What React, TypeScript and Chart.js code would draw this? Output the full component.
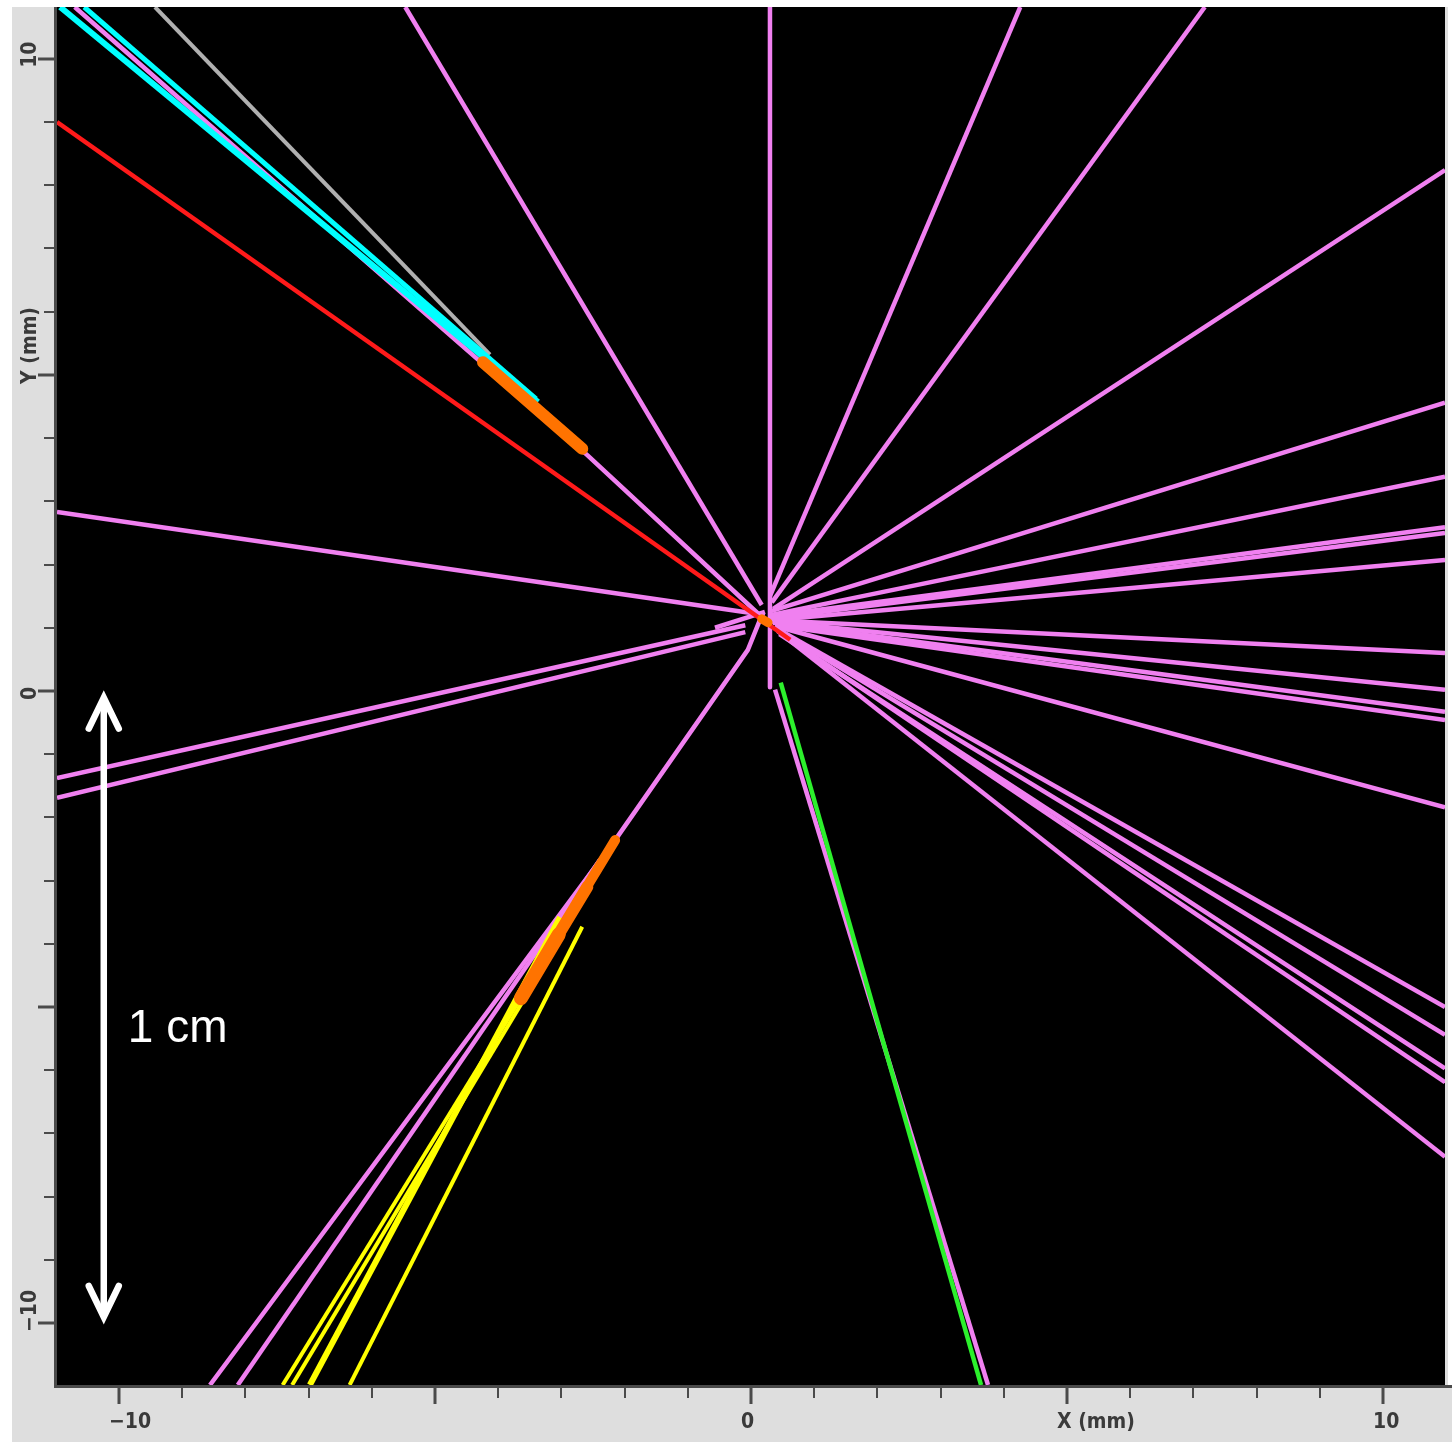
import React, { useEffect, useRef } from "react";
import { Chart, registerables } from "chart.js";

Chart.register(...registerables);

type Pt = [number, number];

// ---- axis ranges (mm) ----
const X_MIN = -10.98;
const X_MAX = 10.98;
const Y_MIN = -10.98;
const Y_MAX = 10.82;

// ---- ticks ----
const minorTickValues = [-10, -9, -8, -7, -6, -5, -4, -3, -2, -1, 0, 1, 2, 3, 4, 5, 6, 7, 8, 9, 10];
const majorTickValues = [-10, -5, 0, 5, 10];
const xLabelValues = [-10, 0, 5, 10];
const xLabelTexts = ["\u221210", "0", "X (mm)", "10"];
const yLabelValues = [-10, 0, 5, 10];
const yLabelTexts = ["\u221210", "0", "Y (mm)", "10"];

// ---- tracks (mm), each a polyline ----
const pinkTracks: Pt[][] = [
  [[-10.7, 10.82], [-2.59, 3.73], [0.17, 1.17]],
  [[-5.47, 10.82], [0.17, 1.36]],
  [[0.3, 10.82], [0.3, 0.06]],
  [[4.26, 10.82], [0.3, 1.5]],
  [[7.18, 10.82], [0.33, 1.4]],
  [[10.98, 8.24], [0.35, 1.3]],
  [[10.98, 4.56], [0.3, 1.26]],
  [[10.98, 3.39], [0.3, 1.2]],
  [[10.98, 2.59], [0.3, 1.18]],
  [[10.98, 2.5], [0.32, 1.15]],
  [[10.98, 2.07], [0.32, 1.12]],
  [[10.98, 0.6], [0.3, 1.12]],
  [[10.98, 0.02], [0.32, 1.1]],
  [[10.98, -0.33], [0.35, 1.08]],
  [[10.98, -0.46], [0.38, 1.04]],
  [[10.98, -1.84], [0.4, 1.02]],
  [[10.98, -5.0], [0.42, 0.98]],
  [[10.98, -5.44], [0.45, 0.95]],
  [[10.98, -5.97], [0.45, 0.9]],
  [[10.98, -6.19], [0.55, 0.85]],
  [[10.98, -7.37], [0.42, 0.95]],
  [[-10.98, 2.83], [0.22, 1.2]],
  [[-10.98, -1.38], [-0.09, 1.04]],
  [[-10.98, -1.69], [-0.09, 0.93]],
  [[-8.56, -10.98], [-2.15, -2.36], [-0.05, 0.65], [0.14, 1.12]],
  [[-8.12, -10.98], [-2.39, -2.67]],
  [[0.38, 0.02], [3.75, -10.98]],
  [[-0.57, 1.0], [0.22, 1.25]],
];

const cyanTracks: Pt[][] = [
  [[-10.93, 10.82], [-3.37, 4.57]],
  [[-10.55, 10.82], [-3.4, 4.62]],
];

const grayTracks: Pt[][] = [
  [[-9.43, 10.82], [-4.13, 5.32]],
];

const redTracks: Pt[][] = [
  [[-10.98, 9.0], [0.62, 0.81]],
];

const yellowTracks: Pt[][] = [
  [[-3.66, -4.89], [-7.41, -10.98]],
  [[-3.55, -4.81], [-7.26, -10.98]],
  [[-3.02, -3.58], [-6.98, -10.98]],
  [[-2.67, -3.73], [-6.35, -10.98]],
];

const greenTracks: Pt[][] = [
  [[0.47, 0.13], [3.64, -10.98]],
];

const orangeTracks: Pt[][] = [
  [[-4.24, 5.2], [-2.67, 3.83]],
  [[-2.15, -2.36], [-2.75, -3.35]],
  [[-2.59, -3.1], [-3.2, -4.11]],
  [[-3.04, -3.85], [-3.64, -4.86]],
  [[0.17, 1.14], [0.27, 1.08]],
];

// ---- scale bar annotation (mm) ----
const scaleBarX = -10.24;
const scaleBarTop = -0.09;
const scaleBarBottom = -9.92;
const scaleBarText = "1 cm";
const scaleBarTextX = -9.86;
const scaleBarTextY = -5.55;

// ---- styles ----
const orangeWidths = [12, 10, 12, 14, 9];
const yellowWidths = [4, 4, 6, 4];
const cyanWidths = [6, 5];

const groups = [
  { tracks: orangeTracks, color: "#ff7300", widths: orangeWidths, cap: "round" },
  { tracks: redTracks, color: "#ff1a1a", widths: [4.5], cap: "butt" },
  { tracks: greenTracks, color: "#2cf02c", widths: [4.5], cap: "butt" },
  { tracks: yellowTracks, color: "#ffff00", widths: yellowWidths, cap: "butt" },
  { tracks: cyanTracks, color: "#00ffff", widths: cyanWidths, cap: "butt" },
  { tracks: grayTracks, color: "#b0b0b0", widths: [4], cap: "butt" },
  { tracks: pinkTracks, color: "#f080f0", widths: [4.5], cap: "butt" },
];

const AXIS_COLOR = "#4a4a4a";
const LABEL_COLOR = "#3a3a3a";
const PANEL_COLOR = "#dedede";
const LABEL_FONT = "bold 21px 'DejaVu Sans Condensed', 'DejaVu Sans', sans-serif";

const framePlugin = {
  id: "eventFrame",
  beforeDraw(chart: any) {
    const { ctx, chartArea: a, width, height } = chart;
    ctx.save();
    ctx.fillStyle = "#ffffff";
    ctx.fillRect(0, 0, width, height);
    ctx.fillStyle = PANEL_COLOR;
    ctx.fillRect(12, a.top, a.right + 3 - 12, height - a.top);
    ctx.fillRect(a.left, a.bottom, width - a.left, height - a.bottom);
    ctx.fillStyle = "#000000";
    ctx.fillRect(a.left, a.top, a.right - a.left, a.bottom - a.top);
    ctx.restore();
  },
  afterDatasetsDraw(chart: any) {
    const { ctx, chartArea: a, width } = chart;
    const xs = chart.scales.x;
    const ys = chart.scales.y;
    ctx.save();

    // axis lines
    ctx.strokeStyle = AXIS_COLOR;
    ctx.lineWidth = 3;
    ctx.beginPath();
    ctx.moveTo(a.left - 1.5, a.top);
    ctx.lineTo(a.left - 1.5, a.bottom + 3);
    ctx.moveTo(a.left - 3, a.bottom + 1.5);
    ctx.lineTo(width, a.bottom + 1.5);
    ctx.stroke();

    // ticks
    for (const v of minorTickValues) {
      const major = majorTickValues.includes(v);
      ctx.lineWidth = major ? 3 : 2;
      const len = major ? 17 : 11;
      const px = Math.round(xs.getPixelForValue(v));
      ctx.beginPath();
      ctx.moveTo(px, a.bottom + 2);
      ctx.lineTo(px, a.bottom + 2 + len);
      ctx.stroke();
      const py = Math.round(ys.getPixelForValue(v));
      ctx.beginPath();
      ctx.moveTo(a.left - 2, py);
      ctx.lineTo(a.left - 2 - len, py);
      ctx.stroke();
    }

    // tick labels
    ctx.fillStyle = LABEL_COLOR;
    ctx.font = LABEL_FONT;
    ctx.textAlign = "left";
    ctx.textBaseline = "alphabetic";
    xLabelValues.forEach((v, i) => {
      const px = xs.getPixelForValue(v);
      ctx.fillText(xLabelTexts[i], px - 10, a.bottom + 43);
    });
    yLabelValues.forEach((v, i) => {
      const py = ys.getPixelForValue(v);
      ctx.save();
      ctx.translate(a.left - 21, py + 9);
      ctx.rotate(-Math.PI / 2);
      ctx.fillText(yLabelTexts[i], 0, 0);
      ctx.restore();
    });

    // scale bar arrow
    const bx = xs.getPixelForValue(scaleBarX);
    const bt = ys.getPixelForValue(scaleBarTop);
    const bb = ys.getPixelForValue(scaleBarBottom);
    ctx.strokeStyle = "#ffffff";
    ctx.lineWidth = 6.5;
    ctx.lineCap = "round";
    ctx.lineJoin = "miter";
    ctx.beginPath();
    ctx.moveTo(bx, bt + 3);
    ctx.lineTo(bx, bb - 3);
    ctx.stroke();
    const armDx = 15;
    const armDy = 32;
    ctx.beginPath();
    ctx.moveTo(bx - armDx, bt + armDy);
    ctx.lineTo(bx, bt + 1);
    ctx.lineTo(bx + armDx, bt + armDy);
    ctx.stroke();
    ctx.beginPath();
    ctx.moveTo(bx - armDx, bb - armDy);
    ctx.lineTo(bx, bb - 1);
    ctx.lineTo(bx + armDx, bb - armDy);
    ctx.stroke();

    ctx.fillStyle = "#ffffff";
    ctx.font = "46px 'Liberation Sans', Arial, sans-serif";
    ctx.textAlign = "left";
    ctx.textBaseline = "alphabetic";
    ctx.fillText(scaleBarText, xs.getPixelForValue(scaleBarTextX), ys.getPixelForValue(scaleBarTextY));

    ctx.restore();
  },
};

export default function App() {
  const canvasRef = useRef<HTMLCanvasElement | null>(null);

  useEffect(() => {
    if (!canvasRef.current) return;
    const datasets: any[] = [];
    groups.forEach((g) => {
      g.tracks.forEach((track, i) => {
        datasets.push({
          data: track.map(([x, y]) => ({ x, y })),
          showLine: true,
          borderColor: g.color,
          backgroundColor: g.color,
          borderWidth: g.widths[i] ?? g.widths[0],
          borderCapStyle: g.cap,
          borderJoinStyle: "round",
          pointRadius: 0,
          pointHoverRadius: 0,
          tension: 0,
          fill: false,
          clip: 0,
        });
      });
    });

    const chart = new Chart(canvasRef.current, {
      type: "scatter",
      data: { datasets },
      options: {
        animation: false,
        responsive: false,
        devicePixelRatio: 1,
        events: [],
        layout: { padding: { left: 57, top: 7, right: 7, bottom: 57 } },
        plugins: { legend: { display: false }, tooltip: { enabled: false } },
        scales: {
          x: { type: "linear", min: X_MIN, max: X_MAX, display: false },
          y: { type: "linear", min: Y_MIN, max: Y_MAX, display: false },
        },
      },
      plugins: [framePlugin],
    } as any);

    return () => chart.destroy();
  }, []);

  return (
    <div style={{ position: "absolute", left: 0, top: 0, width: 1452, height: 1442 }}>
      <canvas ref={canvasRef} width={1452} height={1442} style={{ display: "block" }} />
    </div>
  );
}
